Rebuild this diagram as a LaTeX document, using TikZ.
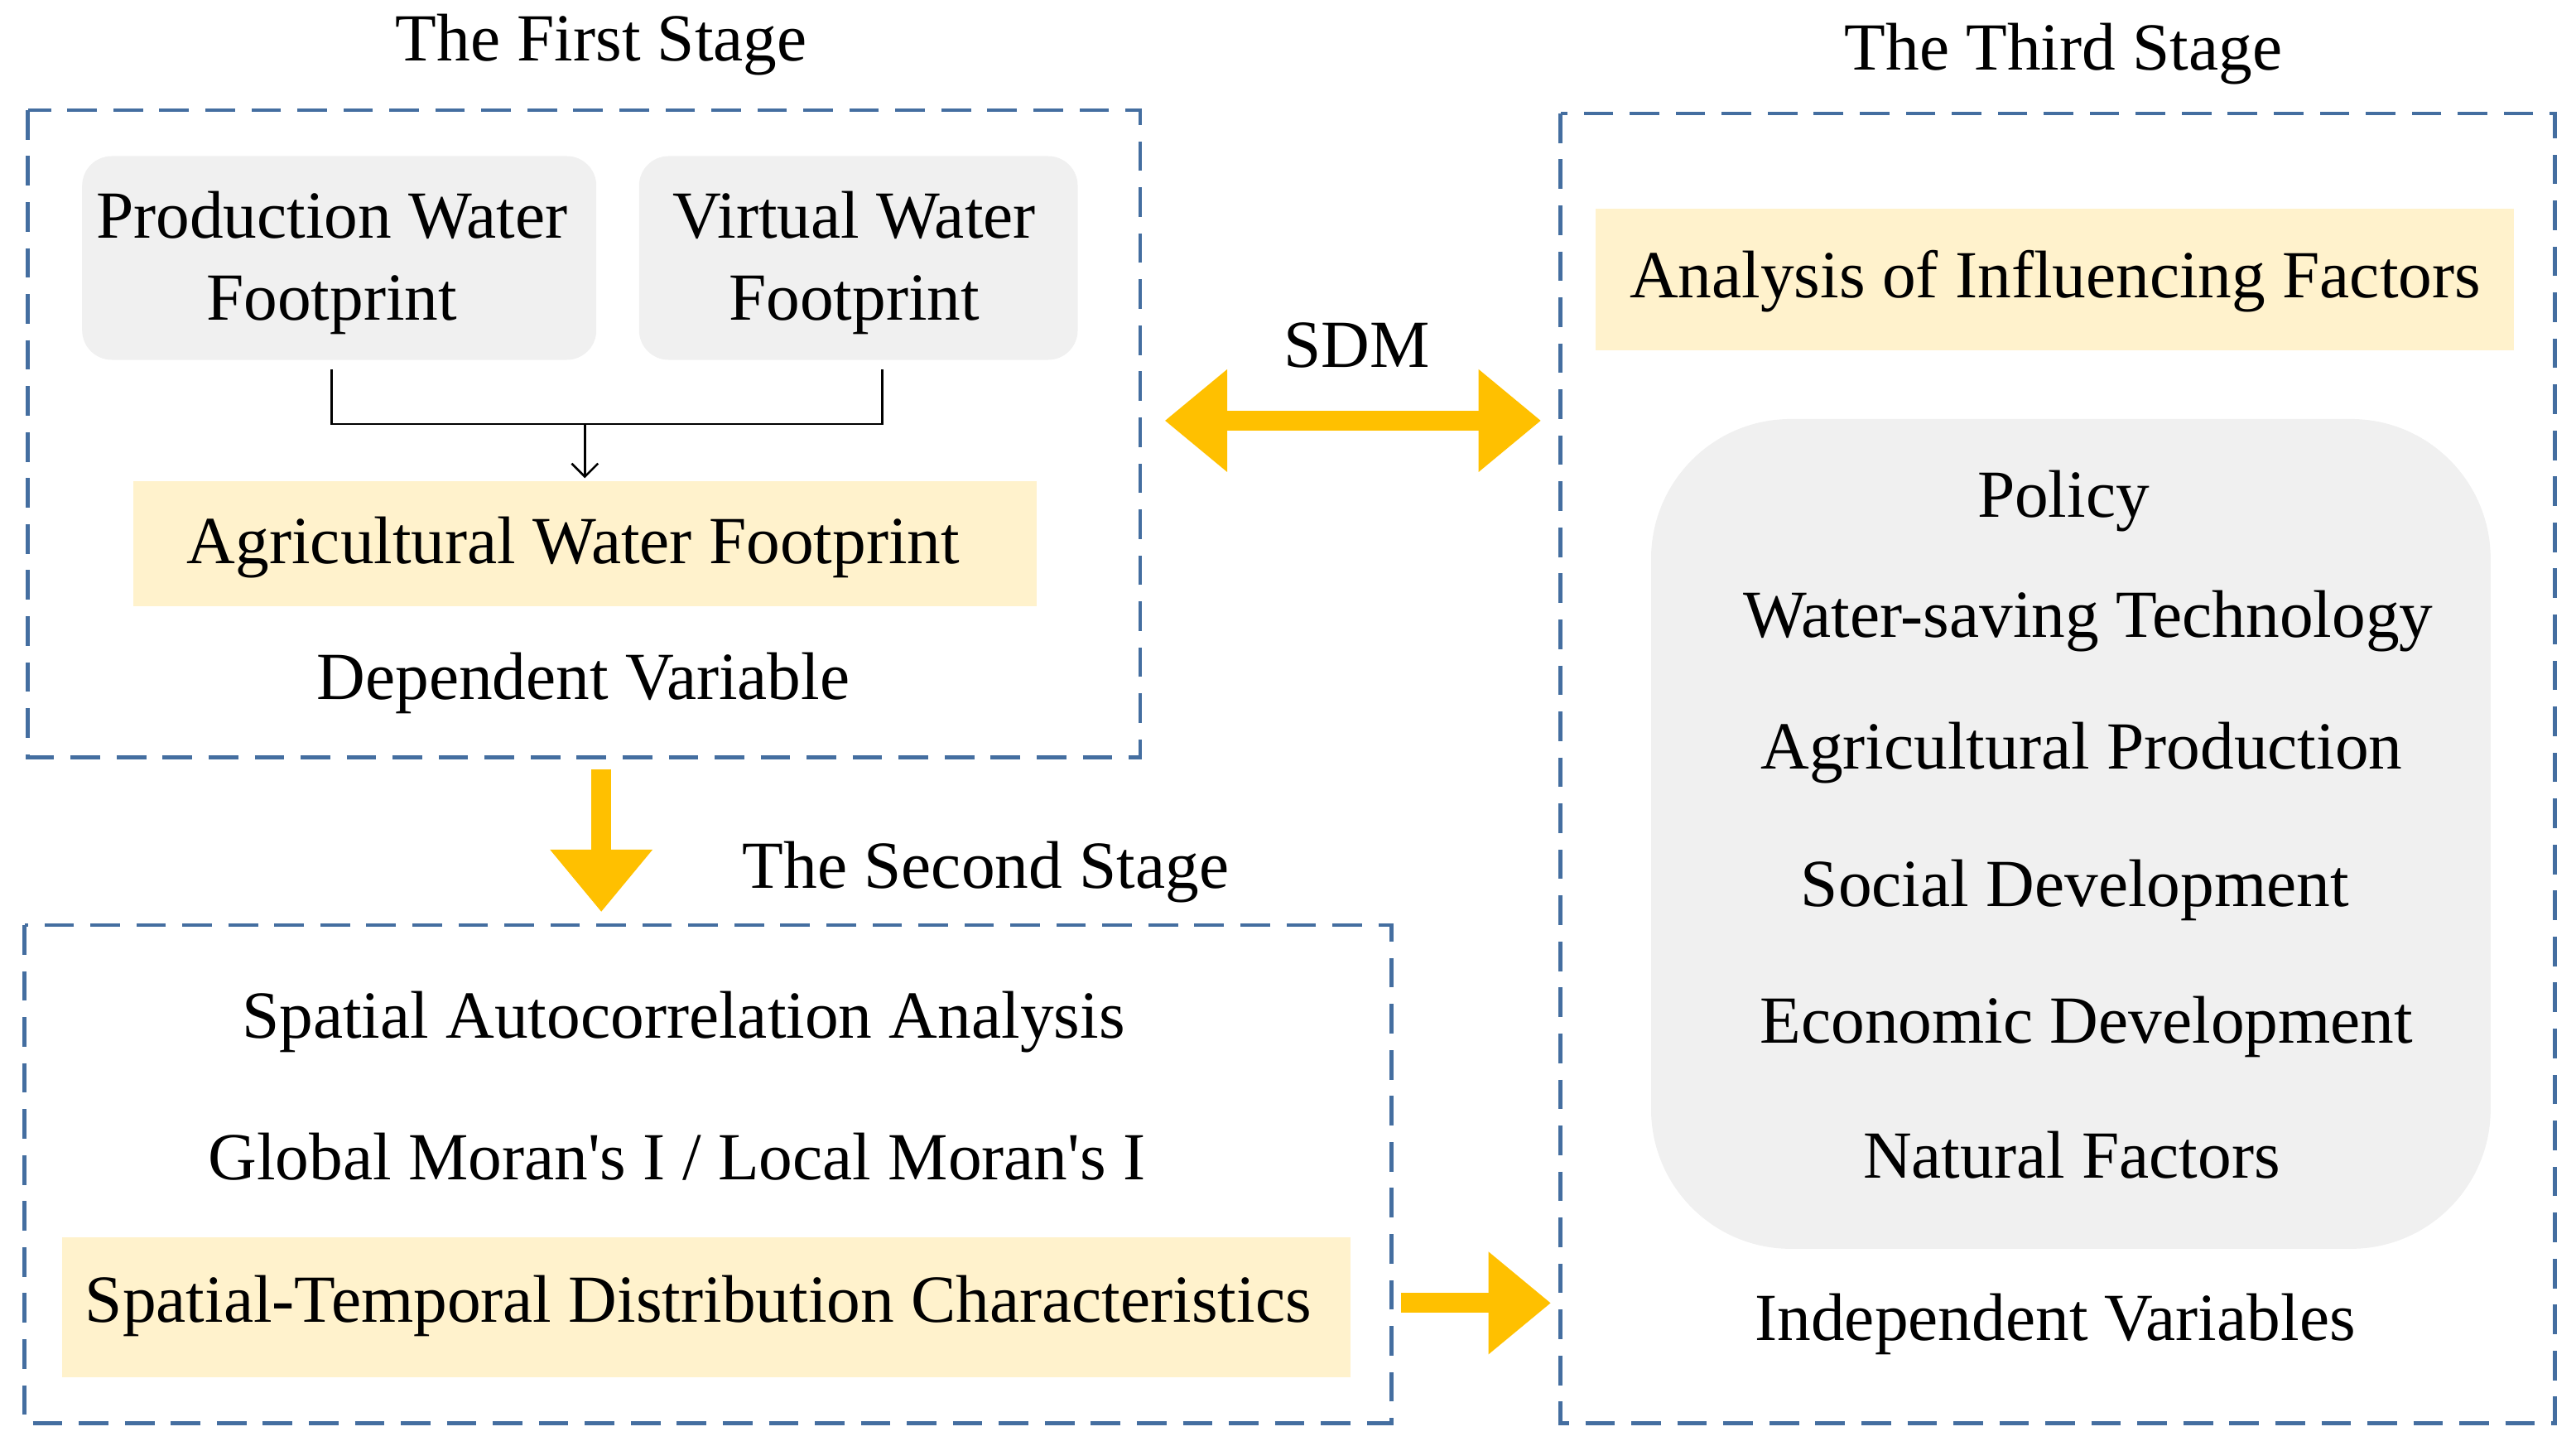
\documentclass[tikz,border=0pt]{standalone}
\usepackage{fontspec}
\setmainfont{Liberation Serif}
\usetikzlibrary{arrows.meta}
\definecolor{dblue}{RGB}{68,110,160}
\definecolor{lgray}{RGB}{240,240,240}
\definecolor{lyel}{RGB}{255,242,204}
\definecolor{gold}{RGB}{255,192,0}
\begin{document}
\begin{tikzpicture}[x=1pt,y=-1pt,
 every node/.style={font=\fontsize{41}{48}\selectfont, inner sep=0pt},
 stage/.style={draw=dblue, line width=2.4pt, dash pattern=on 18pt off 10pt},
 gbox/.style={fill=lgray, rounded corners=18pt},
 ybox/.style={fill=lyel},
 fat/.style={draw=gold, line width=12pt, -{Triangle[length=38pt,width=60pt]}},
 lbl/.style={align=center}]
\useasboundingbox (0,0) rectangle (1568,880);
% first stage
\node (t1) at (366,27) {The First Stage};
\draw[stage] (17,67) rectangle (694,461);
\fill[gbox] (50,95) rectangle (363,219);
\node[lbl] (pw) at (202,160) {Production Water\\[2pt]Footprint};
\fill[gbox] (389,95) rectangle (656,219);
\node[lbl] (vw) at (520,160) {Virtual Water\\[2pt]Footprint};
\fill[ybox] (81,293) rectangle (631,369);
\node (awf) at (349,333) {Agricultural Water Footprint};
\coordinate (c1) at (202,225); \coordinate (c2) at (537,225); \coordinate (cm) at (356,258); \coordinate (ce) at (356,291);
\draw[line width=1.3pt] (c1) |- (cm) -| (c2);
\draw[line width=1.3pt, -{Straight Barb[length=8pt,width=16pt]}] (cm) -- (ce);
\node (dv) at (355,416) {Dependent Variable};
% second stage
\coordinate (a1) at (366,468); \coordinate (a2) at (366,555);
\draw[fat] (a1) -- (a2);
\node (t2) at (600,531) {The Second Stage};
\draw[stage] (15,563) rectangle (847,866);
\node (sa) at (416,622) {Spatial Autocorrelation Analysis};
\node (gm) at (412,704) {Global Moran\textquotesingle s I / Local Moran\textquotesingle s I};
\fill[ybox] (38,753) rectangle (822,838);
\node (st) at (425,795) {Spatial-Temporal Distribution Characteristics};
\coordinate (r1) at (853,793); \coordinate (r2) at (944,793);
\draw[fat] (r1) -- (r2);
% third stage
\node (t3) at (1256,33) {The Third Stage};
\draw[stage] (950,69) rectangle (1555,866);
\fill[ybox] (971,127) rectangle (1530,213);
\node (aif) at (1251,171) {Analysis of Influencing Factors};
\node (sdm) at (826,210) {SDM};
\coordinate (d1) at (709,256); \coordinate (d2) at (938,256);
\draw[draw=gold, line width=12pt, {Triangle[length=38pt,width=60pt]}-{Triangle[length=38pt,width=60pt]}] (d1) -- (d2);
\fill[lgray, rounded corners=85pt] (1005,255) rectangle (1516,760);
\node (p1) at (1256,305) {Policy};
\node (p2) at (1271,378) {Water-saving Technology};
\node (p3) at (1267,458) {Agricultural Production};
\node (p4) at (1263,542) {Social Development};
\node (p5) at (1270,625) {Economic Development};
\node (p6) at (1261,703) {Natural Factors};
\node (iv) at (1251,806) {Independent Variables};
\end{tikzpicture}
\end{document}
